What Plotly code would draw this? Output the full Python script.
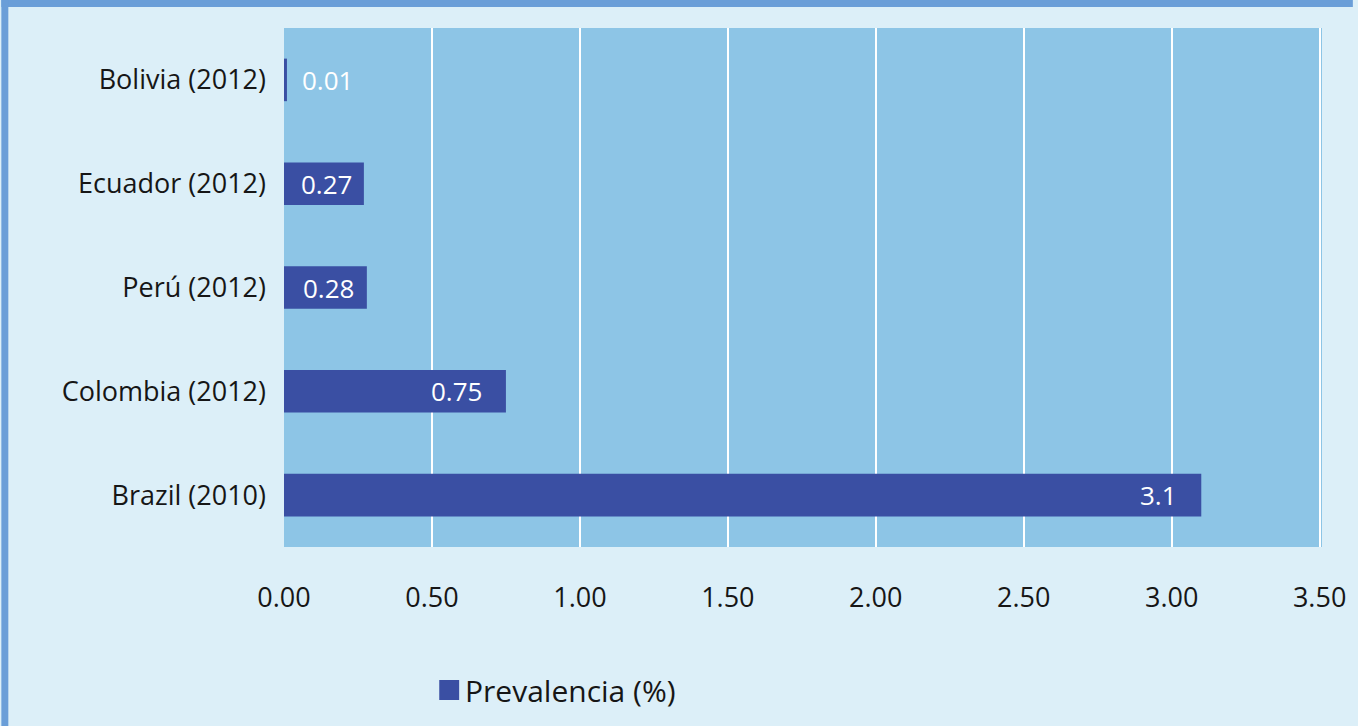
import plotly.graph_objects as go

# Prevalence by country (survey year in brackets), top to bottom
countries = ["Bolivia (2012)", "Ecuador (2012)", "Perú (2012)", "Colombia (2012)", "Brazil (2010)"]
prevalence = [0.01, 0.27, 0.28, 0.75, 3.1]
value_labels = ["0.01", "0.27", "0.28", "0.75", "3.1"]
x_ticks = [0.0, 0.5, 1.0, 1.5, 2.0, 2.5, 3.0, 3.5]
x_tick_text = ["0.00", "0.50", "1.00", "1.50", "2.00", "2.50", "3.00", "3.50"]
series_name = "Prevalencia (%)"

W, H = 1358, 726
M_L, M_R, M_T, M_B = 284, 31, 28, 179
plot_w = W - M_L - M_R
plot_h = H - M_T - M_B
X_MAX = 3.508

BAR = "#3a4fa3"
PAGE = "#dcEff8"
PLOT = "#8dc5e6"
FRAME = "#6a9ed8"
TEXT = "#161616"
FONT = "Open Sans"
LABEL_SIZE = 26
LABEL_PAD = 22


def px_to_paper_x(px):
    return (px - M_L) / plot_w


def px_to_paper_y(py):
    return 1 - (py - M_T) / plot_h


def value_px(v):
    return v / X_MAX * plot_w


fig = go.Figure()
fig.add_trace(go.Bar(
    y=countries,
    x=prevalence,
    orientation="h",
    name=series_name,
    marker=dict(color=BAR, line=dict(width=0)),
    width=0.41,
    showlegend=False,
))

# Value labels: inside the bar end when there is room, centred in short bars,
# just past the end for bars too thin to hold text
for cat, v, lab in zip(countries, prevalence, value_labels):
    text_w = len(lab) * 0.5 * LABEL_SIZE
    bar_w = value_px(v)
    if bar_w >= text_w + 2 * LABEL_PAD:
        kw = dict(x=v, xanchor="right", xshift=-LABEL_PAD)
    elif bar_w >= text_w:
        kw = dict(x=v / 2, xanchor="center", xshift=3)
    else:
        kw = dict(x=v, xanchor="left", xshift=13)
    fig.add_annotation(y=cat, text=lab, showarrow=False, yanchor="middle",
                       font=dict(color="white", size=LABEL_SIZE, family=FONT), **kw)

# Blue frame along the top and left edges of the page
fig.add_shape(type="rect", xref="paper", yref="paper",
              x0=px_to_paper_x(0), x1=px_to_paper_x(W), y0=px_to_paper_y(7), y1=px_to_paper_y(0),
              fillcolor=FRAME, line=dict(width=0), layer="above")
fig.add_shape(type="rect", xref="paper", yref="paper",
              x0=px_to_paper_x(0), x1=px_to_paper_x(7), y0=px_to_paper_y(H), y1=px_to_paper_y(0),
              fillcolor=FRAME, line=dict(width=0), layer="above")

# Legend: colour key and series name below the axis
fig.add_shape(type="rect", xref="paper", yref="paper",
              x0=px_to_paper_x(440), x1=px_to_paper_x(460),
              y0=px_to_paper_y(700), y1=px_to_paper_y(680),
              fillcolor=BAR, line=dict(width=0))
fig.add_annotation(xref="paper", yref="paper",
                   x=px_to_paper_x(464), y=px_to_paper_y(690),
                   xanchor="left", yanchor="middle", showarrow=False,
                   text=series_name, font=dict(size=30, family=FONT, color=TEXT))

fig.update_layout(
    width=W, height=H,
    margin=dict(l=M_L, r=M_R, t=M_T, b=M_B),
    paper_bgcolor=PAGE,
    plot_bgcolor=PLOT,
    font=dict(family=FONT, color=TEXT),
    showlegend=False,
    xaxis=dict(
        range=[0, X_MAX],
        tickvals=x_ticks,
        ticktext=x_tick_text,
        showgrid=True, gridcolor="white", gridwidth=2,
        zeroline=False, showline=False,
        tickfont=dict(size=27, family=FONT, color=TEXT),
        ticklabelstandoff=32,
    ),
    yaxis=dict(
        categoryorder="array",
        categoryarray=countries[::-1],
        showgrid=False, zeroline=False, showline=False,
        tickfont=dict(size=27, family=FONT, color=TEXT),
        ticklabelstandoff=17,
    ),
)

fig.write_html("out.html")
